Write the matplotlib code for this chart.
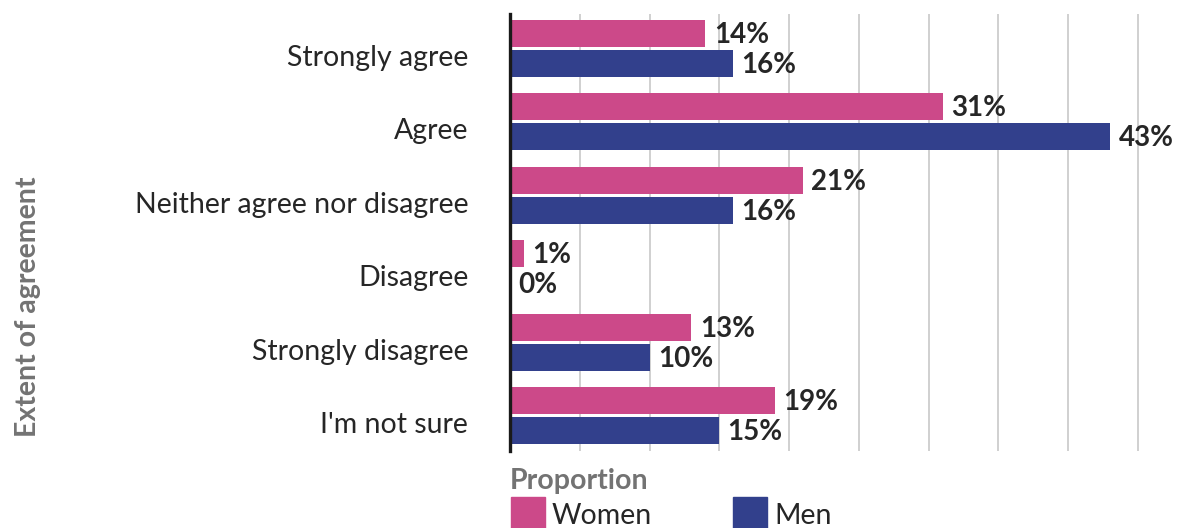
import matplotlib
matplotlib.use("Agg")
import matplotlib.pyplot as plt
from matplotlib.patches import Rectangle
from matplotlib.transforms import ScaledTranslation
import numpy as np

plt.rcParams['font.family'] = ['Lato', 'DejaVu Sans']

categories = ["Strongly agree", "Agree", "Neither agree nor disagree",
              "Disagree", "Strongly disagree", "I'm not sure"]
women = [14, 31, 21, 1, 13, 19]
men = [16, 43, 16, 0, 10, 15]
series_names = ["Women", "Men"]
grid_ticks = [5, 10, 15, 20, 25, 30, 35, 40, 45]

PINK = "#CC4989"
BLUE = "#32408C"
TEXT = "#262626"
GREY = "#737373"

W, H = 1198, 528
fig = plt.figure(figsize=(W / 100, H / 100), dpi=100)

ax_left, ax_right = 510, 1152
ax_top, ax_bottom = 14, 451
ax = fig.add_axes([ax_left / W, 1 - ax_bottom / H,
                   (ax_right - ax_left) / W, (ax_bottom - ax_top) / H])

y = np.arange(len(categories))
bar_h = 0.363
off = 0.204
ax.barh(y - off, women, height=bar_h, color=PINK, zorder=3)
ax.barh(y + off, men, height=bar_h, color=BLUE, zorder=3)

for yi, v in zip(y - off, women):
    ax.annotate(f"{v}%", (v, yi), xytext=(6, -1), textcoords="offset points",
                va="center", ha="left", fontsize=20, fontweight="bold",
                color=TEXT, zorder=4)
for yi, v in zip(y + off, men):
    ax.annotate(f"{v}%", (v, yi), xytext=(6, -1), textcoords="offset points",
                va="center", ha="left", fontsize=20, fontweight="bold",
                color=TEXT, zorder=4)

ax.set_xlim(0, 46)
ax.set_ylim(len(categories) - 0.52, -0.467)
ax.set_yticks(y)
ax.set_yticklabels(categories, fontsize=20.5, color=TEXT)
ax.tick_params(axis="y", length=0, pad=30)
shift = ScaledTranslation(0, -5 / 72, fig.dpi_scale_trans)
for lbl in ax.get_yticklabels():
    lbl.set_transform(lbl.get_transform() + shift)
ax.set_xticks(grid_ticks)
ax.tick_params(axis="x", length=0, labelbottom=False)
ax.grid(axis="x", color="#c4c4c4", linewidth=1.1, zorder=0)
ax.grid(axis="y", visible=False)
for s in ["top", "right", "bottom"]:
    ax.spines[s].set_visible(False)
ax.spines["left"].set_color("#1a1a1a")
ax.spines["left"].set_linewidth(2.4)
ax.spines["left"].set_zorder(5)

fig.text(28 / W, 1 - 307 / H, "Extent of agreement", rotation=90,
         ha="center", va="center", fontsize=20.5, fontweight="bold", color=GREY)

# legend
fig.text(510 / W, 1 - 481 / H, "Proportion", ha="left", va="center",
         fontsize=20.5, fontweight="bold", color=GREY)
for (x0, name, col) in [(511, series_names[0], PINK), (733, series_names[1], BLUE)]:
    fig.patches.append(Rectangle((x0 / W, 1 - 531 / H), 34 / W, 34 / H,
                                 transform=fig.transFigure, color=col))
    fig.text((x0 + 41) / W, 1 - 516 / H, name, ha="left", va="center",
             fontsize=20.5, color=TEXT)

fig.savefig("out.png", dpi=100, facecolor="white")
